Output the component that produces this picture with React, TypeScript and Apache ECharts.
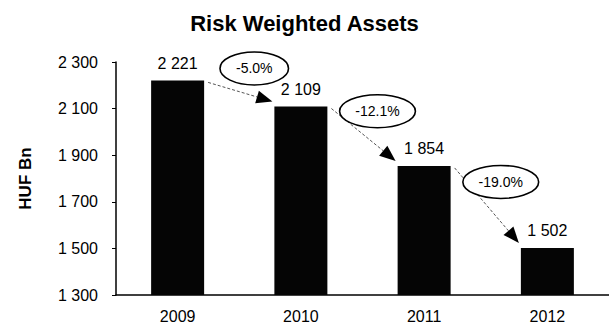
import React, { useEffect, useRef } from "react";
import * as echarts from "echarts";

const categories = ["2009", "2010", "2011", "2012"];
const values = [2221, 2109, 1854, 1502];
const changes = ["-5.0%", "-12.1%", "-19.0%"];
const yTicks = { min: 1300, max: 2300, interval: 200 };

const FONT = "'Liberation Sans', Arial, sans-serif";
const BAR_W = 53;

const fmt = (v: number) => String(v).replace(/\B(?=(\d{3})+(?!\d))/g, " ");

export default function App() {
  const ref = useRef<HTMLDivElement>(null);
  useEffect(() => {
    document.body.style.margin = "0";
    const chart = echarts.init(ref.current!, undefined, { renderer: "svg" });
    const arrowData = changes.map((_, i) => [i, values[i]]);
    chart.setOption({
      animation: false,
      backgroundColor: "#fff",
      title: {
        text: "Risk Weighted Assets",
        left: "center",
        top: 7,
        textStyle: { fontSize: 22, fontWeight: "bold", fontFamily: FONT, color: "#000" },
      },
      grid: { left: 116, right: 0, top: 62, bottom: 34 },
      xAxis: {
        type: "category",
        data: categories,
        axisLine: { lineStyle: { color: "#000", width: 1.5 } },
        axisTick: { show: false },
        axisLabel: { fontSize: 16, fontFamily: FONT, color: "#000", margin: 13 },
      },
      yAxis: {
        type: "value",
        min: yTicks.min,
        max: yTicks.max,
        interval: yTicks.interval,
        name: "HUF Bn",
        nameLocation: "middle",
        nameGap: 82,
        nameRotate: 90,
        nameTextStyle: { fontSize: 17, fontWeight: "bold", fontFamily: FONT, color: "#000" },
        axisLine: { show: true, lineStyle: { color: "#000", width: 1.5 } },
        axisTick: { show: true, length: 4, lineStyle: { color: "#000" } },
        splitLine: { show: false },
        axisLabel: {
          fontSize: 16,
          fontFamily: FONT,
          color: "#000",
          margin: 18,
          formatter: (v: number) => fmt(v),
        },
      },
      series: [
        {
          type: "bar",
          data: values,
          barWidth: BAR_W,
          itemStyle: { color: "#050505" },
          label: {
            show: true,
            position: "top",
            distance: 9,
            fontSize: 16,
            fontFamily: FONT,
            color: "#000",
            formatter: (p: any) => fmt(p.value),
          },
        },
        {
          type: "custom",
          data: arrowData,
          encode: { x: 0, y: 1 },
          clip: false,
          z: 5,
          renderItem: (params: any, api: any) => {
            const i = api.value(0);
            const a = api.coord([i, values[i]]);
            const b = api.coord([i + 1, values[i + 1]]);
            const half = BAR_W / 2;
            const x0 = a[0] + half + 4;
            const y0 = a[1] + 2;
            const x1 = b[0] - half - 2;
            const y1 = b[1] - 5;
            const dx = x1 - x0;
            const dy = y1 - y0;
            const len = Math.sqrt(dx * dx + dy * dy);
            const ux = dx / len;
            const uy = dy / len;
            const hl = 16;
            const hw = 6.5;
            const bx = x1 - ux * hl;
            const by = y1 - uy * hl;
            const text = changes[i];
            const textW = text.length * 7.3;
            const cx = (a[0] + half + b[0] - half) / 2 + 15;
            const cy = (a[1] + b[1]) / 2 - 25;
            return {
              type: "group",
              children: [
                {
                  type: "line",
                  shape: { x1: x0, y1: y0, x2: bx, y2: by },
                  style: { stroke: "#555", lineWidth: 1, lineDash: [3, 2] },
                },
                {
                  type: "polygon",
                  shape: {
                    points: [
                      [x1, y1],
                      [bx - uy * hw, by + ux * hw],
                      [bx + uy * hw, by - ux * hw],
                    ],
                  },
                  style: { fill: "#000" },
                },
                {
                  type: "ellipse",
                  shape: { cx, cy, rx: textW / 2 + 16, ry: 16.5 },
                  style: { fill: "#fff", stroke: "#000", lineWidth: 1.6 },
                },
                {
                  type: "text",
                  x: cx,
                  y: cy,
                  style: {
                    text,
                    fill: "#000",
                    fontSize: 14,
                    fontFamily: FONT,
                    align: "center",
                    verticalAlign: "middle",
                  },
                },
              ],
            };
          },
        },
      ],
    });
    return () => chart.dispose();
  }, []);
  return <div ref={ref} style={{ width: 609, height: 329 }} />;
}
